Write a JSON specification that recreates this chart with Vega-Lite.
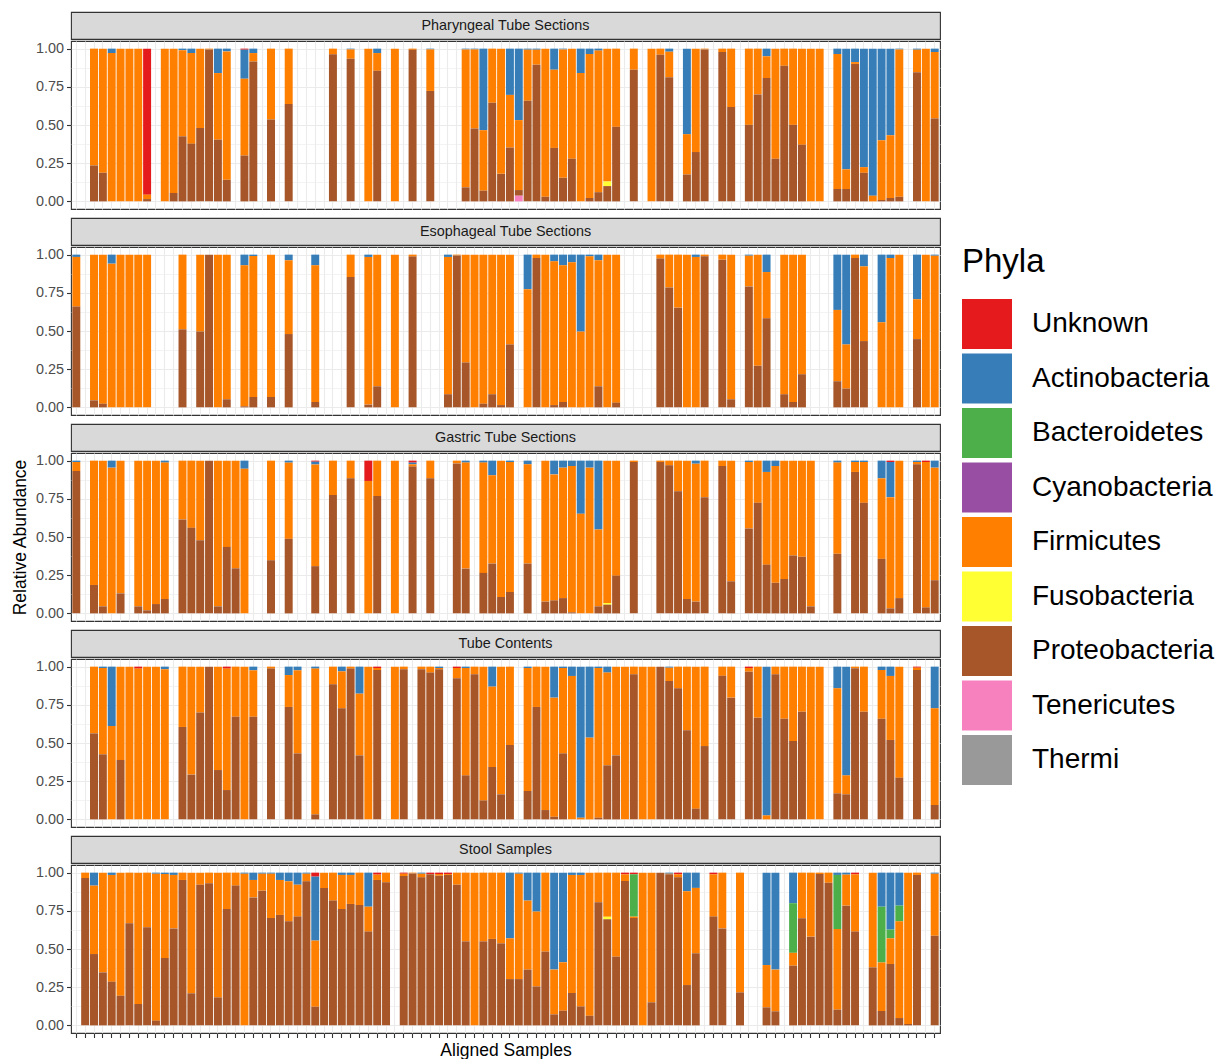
{
"$schema": "https://vega.github.io/schema/vega-lite/v6.json",
"background": "white",
"padding": {"left": 10, "top": 11, "right": 5, "bottom": 0},
"datasets": {
"phyla": [{"k":"U","phy":"Unknown","o":9},{"k":"A","phy":"Actinobacteria","o":8},{"k":"B","phy":"Bacteroidetes","o":7},{"k":"C","phy":"Cyanobacteria","o":6},{"k":"F","phy":"Firmicutes","o":5},{"k":"Y","phy":"Fusobacteria","o":4},{"k":"P","phy":"Proteobacteria","o":3},{"k":"T","phy":"Tenericutes","o":2},{"k":"H","phy":"Thermi","o":1}],
"bars": [
{"p":1,"s":2,"F":0.765,"P":0.235},{"p":1,"s":3,"F":0.813,"P":0.187},{"p":1,"s":4,"A":0.029,"F":0.971},{"p":1,"s":5,"F":1},{"p":1,"s":6,"F":1},{"p":1,"s":7,"F":1},{"p":1,"s":8,"U":0.956,"F":0.029,"P":0.015},{"p":1,"s":10,"F":1},{"p":1,"s":11,"F":0.945,"P":0.055},{"p":1,"s":12,"A":0.01,"F":0.564,"P":0.426},{"p":1,"s":13,"A":0.029,"F":0.593,"P":0.378},{"p":1,"s":14,"F":0.519,"P":0.481},{"p":1,"s":15,"F":0.005,"P":0.995},{"p":1,"s":16,"A":0.16,"F":0.436,"P":0.404},{"p":1,"s":17,"A":0.018,"F":0.841,"P":0.141},{"p":1,"s":19,"U":0.007,"A":0.19,"F":0.503,"P":0.3},{"p":1,"s":20,"A":0.029,"F":0.055,"P":0.916},{"p":1,"s":22,"F":0.464,"P":0.536},{"p":1,"s":24,"F":0.363,"P":0.637},{"p":1,"s":29,"F":0.037,"P":0.963},{"p":1,"s":31,"A":0.005,"F":0.061,"P":0.934},{"p":1,"s":33,"F":1},{"p":1,"s":34,"A":0.029,"F":0.116,"P":0.855},{"p":1,"s":36,"F":1},{"p":1,"s":38,"F":0.008,"P":0.992},{"p":1,"s":40,"A":0.005,"F":0.272,"P":0.723},{"p":1,"s":44,"A":0.005,"F":0.903,"P":0.092},{"p":1,"s":45,"A":0.005,"F":0.518,"P":0.477},{"p":1,"s":46,"A":0.534,"F":0.396,"P":0.07},{"p":1,"s":47,"F":0.354,"P":0.646},{"p":1,"s":48,"F":0.82,"P":0.18},{"p":1,"s":49,"A":0.303,"F":0.345,"P":0.352},{"p":1,"s":50,"A":0.468,"F":0.458,"P":0.037,"T":0.037},{"p":1,"s":51,"A":0.007,"F":0.334,"P":0.659},{"p":1,"s":52,"A":0.007,"F":0.098,"P":0.895},{"p":1,"s":53,"F":0.97,"P":0.03},{"p":1,"s":54,"A":0.138,"F":0.512,"P":0.35},{"p":1,"s":55,"A":0.005,"F":0.841,"P":0.154},{"p":1,"s":56,"F":0.721,"P":0.279},{"p":1,"s":57,"A":0.16,"F":0.84},{"p":1,"s":58,"A":0.035,"F":0.943,"P":0.022},{"p":1,"s":59,"A":0.013,"F":0.927,"P":0.06},{"p":1,"s":60,"F":0.87,"Y":0.03,"P":0.1},{"p":1,"s":61,"F":0.512,"P":0.488},{"p":1,"s":63,"F":0.138,"P":0.862},{"p":1,"s":65,"F":1},{"p":1,"s":66,"F":0.04,"P":0.96},{"p":1,"s":67,"A":0.02,"F":0.167,"P":0.813},{"p":1,"s":69,"A":0.56,"F":0.264,"P":0.176},{"p":1,"s":70,"F":0.677,"P":0.323},{"p":1,"s":71,"F":0.005,"P":0.995},{"p":1,"s":73,"F":0.022,"P":0.978},{"p":1,"s":74,"F":0.382,"P":0.618},{"p":1,"s":76,"F":0.499,"P":0.501},{"p":1,"s":77,"F":0.3,"P":0.7},{"p":1,"s":78,"A":0.05,"F":0.143,"P":0.807},{"p":1,"s":79,"F":0.721,"P":0.279},{"p":1,"s":80,"F":0.112,"P":0.888},{"p":1,"s":81,"F":0.499,"P":0.501},{"p":1,"s":82,"F":0.629,"P":0.371},{"p":1,"s":83,"F":1},{"p":1,"s":84,"F":1},{"p":1,"s":86,"A":0.035,"F":0.884,"P":0.081},{"p":1,"s":87,"A":0.79,"F":0.129,"P":0.081},{"p":1,"s":88,"A":0.088,"F":0.012,"P":0.9},{"p":1,"s":89,"A":0.776,"F":0.037,"P":0.187},{"p":1,"s":90,"A":0.963,"F":0.037},{"p":1,"s":91,"A":0.6,"F":0.391,"P":0.009},{"p":1,"s":92,"A":0.567,"F":0.411,"P":0.022},{"p":1,"s":93,"A":0.005,"F":0.965,"P":0.03},{"p":1,"s":95,"A":0.007,"F":0.147,"P":0.846},{"p":1,"s":96,"F":1},{"p":1,"s":97,"A":0.022,"F":0.435,"P":0.543},
{"p":2,"s":0,"A":0.015,"F":0.325,"P":0.66},{"p":2,"s":2,"F":0.954,"P":0.046},{"p":2,"s":3,"F":0.976,"P":0.024},{"p":2,"s":4,"A":0.059,"F":0.941},{"p":2,"s":5,"F":1},{"p":2,"s":6,"F":1},{"p":2,"s":7,"F":1},{"p":2,"s":8,"F":1},{"p":2,"s":12,"F":0.489,"P":0.511},{"p":2,"s":14,"F":0.504,"P":0.496},{"p":2,"s":15,"P":1},{"p":2,"s":16,"F":1},{"p":2,"s":17,"F":0.947,"P":0.053},{"p":2,"s":19,"A":0.07,"F":0.923,"P":0.007},{"p":2,"s":20,"A":0.009,"F":0.923,"P":0.068},{"p":2,"s":22,"F":0.932,"P":0.068},{"p":2,"s":24,"A":0.037,"F":0.483,"P":0.48},{"p":2,"s":27,"A":0.07,"F":0.895,"P":0.035},{"p":2,"s":31,"F":0.147,"P":0.853},{"p":2,"s":33,"A":0.015,"F":0.967,"P":0.018},{"p":2,"s":34,"F":0.862,"P":0.138},{"p":2,"s":36,"F":1},{"p":2,"s":38,"F":0.013,"P":0.987},{"p":2,"s":42,"A":0.015,"F":0.899,"P":0.086},{"p":2,"s":43,"F":0.005,"P":0.995},{"p":2,"s":44,"F":0.706,"P":0.294},{"p":2,"s":45,"F":1},{"p":2,"s":46,"F":0.976,"P":0.024},{"p":2,"s":47,"F":0.914,"P":0.086},{"p":2,"s":48,"F":0.985,"P":0.015},{"p":2,"s":49,"F":0.588,"P":0.412},{"p":2,"s":51,"A":0.226,"F":0.774},{"p":2,"s":52,"F":0.022,"P":0.978},{"p":2,"s":53,"F":1},{"p":2,"s":54,"A":0.044,"F":0.941,"P":0.015},{"p":2,"s":55,"A":0.07,"F":0.895,"P":0.035},{"p":2,"s":56,"A":0.05,"F":0.95},{"p":2,"s":57,"A":0.504,"F":0.496},{"p":2,"s":58,"A":0.011,"F":0.989},{"p":2,"s":59,"A":0.037,"F":0.825,"P":0.138},{"p":2,"s":60,"F":1},{"p":2,"s":61,"F":0.969,"P":0.031},{"p":2,"s":66,"F":0.026,"P":0.974},{"p":2,"s":67,"F":0.215,"P":0.785},{"p":2,"s":68,"F":0.347,"P":0.653},{"p":2,"s":69,"F":1},{"p":2,"s":70,"A":0.015,"F":0.985},{"p":2,"s":71,"F":0.011,"P":0.989},{"p":2,"s":73,"F":0.033,"P":0.967},{"p":2,"s":74,"F":0.947,"P":0.053},{"p":2,"s":76,"A":0.007,"F":0.201,"P":0.792},{"p":2,"s":77,"F":0.728,"P":0.272},{"p":2,"s":78,"A":0.114,"F":0.303,"P":0.583},{"p":2,"s":80,"F":0.914,"P":0.086},{"p":2,"s":81,"F":0.965,"P":0.035},{"p":2,"s":82,"F":0.783,"P":0.217},{"p":2,"s":86,"A":0.362,"F":0.467,"P":0.171},{"p":2,"s":87,"A":0.588,"F":0.289,"P":0.123},{"p":2,"s":88,"F":0.022,"P":0.978},{"p":2,"s":89,"A":0.077,"F":0.489,"P":0.434},{"p":2,"s":91,"A":0.443,"F":0.557},{"p":2,"s":92,"A":0.022,"F":0.978},{"p":2,"s":93,"F":1},{"p":2,"s":95,"A":0.292,"F":0.261,"P":0.447},{"p":2,"s":96,"F":1},{"p":2,"s":97,"A":0.007,"F":0.993},
{"p":3,"s":0,"A":0.009,"F":0.059,"P":0.932},{"p":3,"s":2,"F":0.814,"P":0.186},{"p":3,"s":3,"F":0.954,"P":0.046},{"p":3,"s":4,"A":0.046,"F":0.954},{"p":3,"s":5,"F":0.869,"P":0.131},{"p":3,"s":7,"F":0.954,"P":0.046},{"p":3,"s":8,"F":0.98,"P":0.02},{"p":3,"s":9,"F":0.939,"P":0.061},{"p":3,"s":10,"A":0.013,"F":0.893,"P":0.094},{"p":3,"s":12,"F":0.385,"P":0.615},{"p":3,"s":13,"F":0.44,"P":0.56},{"p":3,"s":14,"F":0.521,"P":0.479},{"p":3,"s":15,"P":1},{"p":3,"s":16,"F":0.954,"P":0.046},{"p":3,"s":17,"F":0.565,"P":0.435},{"p":3,"s":18,"F":0.705,"P":0.295},{"p":3,"s":19,"A":0.053,"F":0.947},{"p":3,"s":22,"F":0.652,"P":0.348},{"p":3,"s":24,"A":0.013,"F":0.499,"P":0.488},{"p":3,"s":27,"U":0.007,"A":0.018,"F":0.666,"P":0.309},{"p":3,"s":29,"F":0.225,"P":0.775},{"p":3,"s":31,"F":0.116,"P":0.884},{"p":3,"s":33,"U":0.133,"F":0.867},{"p":3,"s":34,"F":0.232,"P":0.768},{"p":3,"s":36,"F":1},{"p":3,"s":38,"U":0.013,"A":0.011,"F":0.015,"P":0.961},{"p":3,"s":40,"F":0.116,"P":0.884},{"p":3,"s":43,"F":0.018,"P":0.982},{"p":3,"s":44,"A":0.013,"F":0.694,"P":0.293},{"p":3,"s":46,"A":0.013,"F":0.722,"P":0.265},{"p":3,"s":47,"A":0.096,"F":0.578,"P":0.326},{"p":3,"s":48,"F":0.893,"P":0.107},{"p":3,"s":49,"A":0.009,"F":0.851,"P":0.14},{"p":3,"s":51,"A":0.024,"F":0.65,"P":0.326},{"p":3,"s":53,"F":0.923,"P":0.077},{"p":3,"s":54,"A":0.09,"F":0.825,"P":0.085},{"p":3,"s":55,"A":0.046,"F":0.854,"P":0.1},{"p":3,"s":56,"A":0.035,"F":0.958,"P":0.007},{"p":3,"s":57,"A":0.348,"F":0.652},{"p":3,"s":58,"A":0.046,"F":0.954},{"p":3,"s":59,"A":0.451,"F":0.503,"P":0.046},{"p":3,"s":60,"F":0.932,"Y":0.011,"P":0.057},{"p":3,"s":61,"F":0.753,"P":0.247},{"p":3,"s":63,"F":0.009,"P":0.991},{"p":3,"s":66,"F":0.009,"P":0.991},{"p":3,"s":67,"F":0.031,"P":0.969},{"p":3,"s":68,"F":0.201,"P":0.799},{"p":3,"s":69,"F":0.906,"P":0.094},{"p":3,"s":70,"A":0.02,"F":0.903,"P":0.077},{"p":3,"s":71,"F":0.239,"P":0.761},{"p":3,"s":73,"F":0.035,"P":0.965},{"p":3,"s":74,"F":0.79,"P":0.21},{"p":3,"s":76,"A":0.009,"F":0.435,"P":0.556},{"p":3,"s":77,"F":0.276,"P":0.724},{"p":3,"s":78,"A":0.074,"F":0.607,"P":0.319},{"p":3,"s":79,"A":0.035,"F":0.765,"P":0.2},{"p":3,"s":80,"F":0.775,"P":0.225},{"p":3,"s":81,"F":0.621,"P":0.379},{"p":3,"s":82,"F":0.63,"P":0.37},{"p":3,"s":83,"F":0.954,"P":0.046},{"p":3,"s":86,"A":0.013,"F":0.597,"P":0.39},{"p":3,"s":88,"A":0.009,"F":0.065,"P":0.926},{"p":3,"s":89,"A":0.009,"F":0.267,"P":0.724},{"p":3,"s":91,"A":0.116,"F":0.527,"P":0.357},{"p":3,"s":92,"U":0.009,"A":0.23,"F":0.728,"P":0.033},{"p":3,"s":93,"F":0.9,"P":0.1},{"p":3,"s":95,"A":0.009,"F":0.015,"P":0.976},{"p":3,"s":96,"U":0.009,"F":0.952,"P":0.039},{"p":3,"s":97,"A":0.046,"F":0.737,"P":0.217},
{"p":4,"s":2,"F":0.437,"P":0.563},{"p":4,"s":3,"A":0.009,"F":0.565,"P":0.426},{"p":4,"s":4,"A":0.389,"F":0.611},{"p":4,"s":5,"F":0.611,"P":0.389},{"p":4,"s":6,"F":1},{"p":4,"s":7,"U":0.013,"F":0.987},{"p":4,"s":8,"F":1},{"p":4,"s":9,"F":1},{"p":4,"s":10,"A":0.017,"F":0.983},{"p":4,"s":12,"F":0.395,"P":0.605},{"p":4,"s":13,"F":0.707,"P":0.293},{"p":4,"s":14,"F":0.301,"P":0.699},{"p":4,"s":15,"P":1},{"p":4,"s":16,"F":0.677,"P":0.323},{"p":4,"s":17,"U":0.013,"F":0.795,"P":0.192},{"p":4,"s":18,"F":0.328,"P":0.672},{"p":4,"s":19,"F":1},{"p":4,"s":20,"A":0.024,"F":0.304,"P":0.672},{"p":4,"s":22,"F":0.013,"P":0.987},{"p":4,"s":24,"A":0.055,"F":0.209,"P":0.736},{"p":4,"s":25,"A":0.024,"F":0.544,"P":0.432},{"p":4,"s":27,"A":0.013,"F":0.954,"P":0.033},{"p":4,"s":29,"F":0.116,"P":0.884},{"p":4,"s":30,"A":0.031,"F":0.242,"P":0.727},{"p":4,"s":31,"F":0.013,"P":0.987},{"p":4,"s":32,"A":0.177,"F":0.404,"P":0.419},{"p":4,"s":33,"F":1},{"p":4,"s":34,"U":0.009,"F":0.013,"P":0.978},{"p":4,"s":36,"F":1},{"p":4,"s":37,"F":0.017,"P":0.983},{"p":4,"s":39,"F":0.017,"P":0.983},{"p":4,"s":40,"F":0.039,"P":0.961},{"p":4,"s":41,"A":0.009,"F":0.008,"P":0.983},{"p":4,"s":43,"U":0.009,"F":0.067,"P":0.924},{"p":4,"s":44,"A":0.009,"F":0.703,"P":0.288},{"p":4,"s":45,"F":0.05,"P":0.95},{"p":4,"s":46,"F":0.876,"P":0.124},{"p":4,"s":47,"A":0.131,"F":0.526,"P":0.343},{"p":4,"s":48,"F":0.836,"P":0.164},{"p":4,"s":49,"F":0.513,"P":0.487},{"p":4,"s":51,"A":0.009,"F":0.805,"P":0.186},{"p":4,"s":52,"F":0.264,"P":0.736},{"p":4,"s":53,"F":0.939,"P":0.061},{"p":4,"s":54,"A":0.203,"F":0.78,"P":0.017},{"p":4,"s":55,"A":0.009,"F":0.559,"P":0.432},{"p":4,"s":56,"A":0.061,"F":0.939},{"p":4,"s":57,"A":0.989,"F":0.011},{"p":4,"s":58,"A":0.465,"F":0.535},{"p":4,"s":59,"A":0.009,"F":0.98,"P":0.011},{"p":4,"s":60,"A":0.039,"F":0.607,"P":0.354},{"p":4,"s":61,"F":0.581,"P":0.419},{"p":4,"s":62,"F":1},{"p":4,"s":63,"F":0.05,"P":0.95},{"p":4,"s":64,"F":1},{"p":4,"s":65,"F":1},{"p":4,"s":66,"P":1},{"p":4,"s":67,"A":0.007,"F":0.087,"P":0.906},{"p":4,"s":68,"F":0.142,"P":0.858},{"p":4,"s":69,"F":0.417,"P":0.583},{"p":4,"s":70,"F":0.93,"P":0.07},{"p":4,"s":71,"F":0.52,"P":0.48},{"p":4,"s":73,"F":0.06,"P":0.94},{"p":4,"s":74,"F":0.203,"P":0.797},{"p":4,"s":76,"U":0.009,"F":0.024,"P":0.967},{"p":4,"s":77,"F":0.334,"P":0.666},{"p":4,"s":78,"A":0.974,"F":0.026},{"p":4,"s":79,"F":0.05,"P":0.95},{"p":4,"s":80,"F":0.341,"P":0.659},{"p":4,"s":81,"F":0.487,"P":0.513},{"p":4,"s":82,"F":0.295,"P":0.705},{"p":4,"s":83,"F":1},{"p":4,"s":84,"F":1},{"p":4,"s":86,"A":0.142,"F":0.688,"P":0.17},{"p":4,"s":87,"A":0.712,"F":0.124,"P":0.164},{"p":4,"s":88,"F":0.01,"P":0.99},{"p":4,"s":89,"F":0.295,"P":0.705},{"p":4,"s":91,"A":0.022,"F":0.319,"P":0.659},{"p":4,"s":92,"A":0.061,"F":0.419,"P":0.52},{"p":4,"s":93,"F":0.727,"P":0.273},{"p":4,"s":95,"U":0.007,"F":0.015,"P":0.978},{"p":4,"s":97,"A":0.273,"F":0.633,"P":0.094},
{"p":5,"s":1,"F":0.035,"P":0.965},{"p":5,"s":2,"A":0.085,"F":0.448,"P":0.467},{"p":5,"s":3,"F":0.653,"P":0.347},{"p":5,"s":4,"A":0.015,"F":0.699,"P":0.286},{"p":5,"s":5,"F":0.806,"P":0.194},{"p":5,"s":6,"F":0.332,"P":0.668},{"p":5,"s":7,"F":0.86,"P":0.14},{"p":5,"s":8,"F":0.358,"P":0.642},{"p":5,"s":9,"A":0.007,"F":0.962,"P":0.031},{"p":5,"s":10,"A":0.009,"F":0.55,"P":0.441},{"p":5,"s":11,"A":0.015,"F":0.35,"P":0.635},{"p":5,"s":12,"F":0.048,"P":0.952},{"p":5,"s":13,"F":0.79,"P":0.21},{"p":5,"s":14,"F":0.079,"P":0.921},{"p":5,"s":15,"F":0.07,"P":0.93},{"p":5,"s":16,"F":0.817,"P":0.183},{"p":5,"s":17,"F":0.238,"P":0.762},{"p":5,"s":18,"F":0.085,"P":0.915},{"p":5,"s":19,"A":0.007,"F":0.993},{"p":5,"s":20,"A":0.048,"F":0.114,"P":0.838},{"p":5,"s":21,"A":0.007,"F":0.111,"P":0.882},{"p":5,"s":22,"A":0.007,"F":0.29,"P":0.703},{"p":5,"s":23,"A":0.048,"F":0.229,"P":0.723},{"p":5,"s":24,"A":0.057,"F":0.262,"P":0.681},{"p":5,"s":25,"A":0.079,"F":0.209,"P":0.712},{"p":5,"s":26,"A":0.007,"F":0.05,"P":0.943},{"p":5,"s":27,"U":0.026,"A":0.419,"F":0.433,"P":0.122},{"p":5,"s":28,"F":0.1,"P":0.9},{"p":5,"s":29,"F":0.183,"P":0.817},{"p":5,"s":30,"A":0.015,"F":0.223,"P":0.762},{"p":5,"s":31,"A":0.015,"F":0.19,"P":0.795},{"p":5,"s":32,"F":0.212,"P":0.788},{"p":5,"s":33,"A":0.223,"F":0.163,"P":0.614},{"p":5,"s":34,"U":0.013,"F":0.035,"P":0.952},{"p":5,"s":35,"F":0.063,"P":0.937},{"p":5,"s":37,"U":0.007,"F":0.015,"P":0.978},{"p":5,"s":38,"F":0.005,"P":0.995},{"p":5,"s":39,"A":0.007,"F":0.024,"P":0.969},{"p":5,"s":40,"U":0.009,"F":0.001,"P":0.99},{"p":5,"s":41,"U":0.009,"F":0.011,"P":0.98},{"p":5,"s":42,"U":0.009,"F":0.006,"P":0.985},{"p":5,"s":43,"F":0.079,"P":0.921},{"p":5,"s":44,"F":0.45,"P":0.55},{"p":5,"s":45,"F":1},{"p":5,"s":46,"F":0.45,"P":0.55},{"p":5,"s":47,"F":0.434,"P":0.566},{"p":5,"s":48,"F":0.463,"P":0.537},{"p":5,"s":49,"A":0.43,"F":0.267,"P":0.303},{"p":5,"s":50,"A":0.007,"F":0.69,"P":0.303},{"p":5,"s":51,"A":0.183,"F":0.452,"P":0.365},{"p":5,"s":52,"A":0.255,"F":0.49,"P":0.255},{"p":5,"s":53,"F":0.517,"P":0.483},{"p":5,"s":54,"A":0.635,"F":0.293,"P":0.072},{"p":5,"s":55,"A":0.587,"F":0.317,"P":0.096},{"p":5,"s":56,"A":0.015,"F":0.773,"P":0.212},{"p":5,"s":57,"A":0.015,"F":0.861,"P":0.124},{"p":5,"s":58,"F":0.937,"P":0.063},{"p":5,"s":59,"F":0.194,"P":0.806},{"p":5,"s":60,"F":0.289,"Y":0.017,"P":0.694},{"p":5,"s":61,"F":0.55,"P":0.45},{"p":5,"s":62,"U":0.011,"F":0.044,"P":0.945},{"p":5,"s":63,"U":0.011,"B":0.277,"F":0.009,"P":0.703},{"p":5,"s":64,"F":1},{"p":5,"s":65,"F":0.849,"P":0.151},{"p":5,"s":66,"P":1},{"p":5,"s":67,"A":0.007,"F":0.003,"P":0.99},{"p":5,"s":68,"U":0.011,"F":0.02,"P":0.969},{"p":5,"s":69,"A":0.122,"F":0.614,"P":0.264},{"p":5,"s":70,"A":0.1,"F":0.428,"P":0.472},{"p":5,"s":72,"U":0.011,"F":0.277,"P":0.712},{"p":5,"s":73,"F":0.365,"P":0.635},{"p":5,"s":75,"F":0.784,"P":0.216},{"p":5,"s":78,"A":0.605,"F":0.277,"P":0.118},{"p":5,"s":79,"A":0.635,"F":0.273,"P":0.092},{"p":5,"s":81,"A":0.2,"B":0.325,"F":0.084,"P":0.391},{"p":5,"s":82,"F":0.299,"P":0.701},{"p":5,"s":83,"F":0.419,"P":0.581},{"p":5,"s":84,"F":0.009,"P":0.991},{"p":5,"s":85,"F":0.066,"P":0.934},{"p":5,"s":86,"A":0.015,"B":0.354,"F":0.528,"P":0.103},{"p":5,"s":87,"A":0.013,"F":0.203,"P":0.784},{"p":5,"s":88,"U":0.011,"F":0.375,"P":0.614},{"p":5,"s":90,"F":0.62,"P":0.38},{"p":5,"s":91,"A":0.223,"B":0.365,"F":0.318,"P":0.094},{"p":5,"s":92,"A":0.373,"B":0.057,"F":0.168,"P":0.402},{"p":5,"s":93,"A":0.216,"B":0.103,"F":0.633,"P":0.048},{"p":5,"s":94,"F":0.991,"P":0.009},{"p":5,"s":95,"F":0.015,"P":0.985},{"p":5,"s":97,"A":0.007,"F":0.406,"P":0.587}
]
},
"spacing": 7,
"vconcat": [
{"spacing": 0, "vconcat": [
 {"width": 869, "height": 27, "view": {"fill": "#D9D9D9", "stroke": "#333333", "strokeWidth": 1.1}, "data": {"values": [{"t": "Pharyngeal Tube Sections"}]}, "mark": {"type": "text", "fontSize": 14.4, "color": "#1A1A1A", "baseline": "middle", "align": "center"}, "encoding": {"text": {"field": "t", "type": "nominal"}}},
 {"width": 869, "height": 168, "view": {"stroke": "#333333", "strokeWidth": 1.1}, "data": {"name": "bars"},
  "transform": [{"filter": "datum.p == 1"}, {"fold": ["U","A","B","C","F","Y","P","T"], "as": ["k","v"]}, {"filter": "isValid(datum.v) && datum.v > 0"}, {"lookup": "k", "from": {"data": {"name": "phyla"}, "key": "k", "fields": ["phy","o"]}}],
  "mark": {"type": "bar"},
  "encoding": {
   "x": {"field": "s", "type": "ordinal", "scale": {"domain": [0,1,2,3,4,5,6,7,8,9,10,11,12,13,14,15,16,17,18,19,20,21,22,23,24,25,26,27,28,29,30,31,32,33,34,35,36,37,38,39,40,41,42,43,44,45,46,47,48,49,50,51,52,53,54,55,56,57,58,59,60,61,62,63,64,65,66,67,68,69,70,71,72,73,74,75,76,77,78,79,80,81,82,83,84,85,86,87,88,89,90,91,92,93,94,95,96,97], "paddingInner": 0.1, "paddingOuter": 0.15}, "axis": {"labels": false, "ticks": false, "domain": false, "title": null, "grid": true, "gridColor": "#EBEBEB", "gridWidth": 1.1, "bandPosition": 0.5}},
   "y": {"field": "v", "type": "quantitative", "stack": "normalize", "scale": {"domain": [-0.05, 1.05], "nice": false, "zero": false}, "axis": {"title": "Relative Abundance", "titleOpacity": 0, "values": [0,0.125,0.25,0.375,0.5,0.625,0.75,0.875,1], "labelExpr": "datum.value*4 == floor(datum.value*4) ? format(datum.value, '.2f') : ''", "tickOpacity": {"condition": {"test": "datum.value*4 != floor(datum.value*4)", "value": 0}, "value": 1}, "gridWidth": {"condition": {"test": "datum.value*4 != floor(datum.value*4)", "value": 0.6}, "value": 1.1}}},
   "color": {"field": "phy", "type": "nominal", "scale": {"domain": ["Unknown","Actinobacteria","Bacteroidetes","Cyanobacteria","Firmicutes","Fusobacteria","Proteobacteria","Tenericutes","Thermi"], "range": ["#E41A1C","#377EB8","#4DAF4A","#984EA3","#FF7F00","#FFFF33","#A65628","#F781BF","#999999"]}, "legend": {"title": "Phyla", "orient": "none", "legendX": 891, "legendY": 234}},
   "order": {"field": "o", "type": "quantitative"}
  }}
]},
{"spacing": 0, "vconcat": [
 {"width": 869, "height": 27, "view": {"fill": "#D9D9D9", "stroke": "#333333", "strokeWidth": 1.1}, "data": {"values": [{"t": "Esophageal Tube Sections"}]}, "mark": {"type": "text", "fontSize": 14.4, "color": "#1A1A1A", "baseline": "middle", "align": "center"}, "encoding": {"text": {"field": "t", "type": "nominal"}}},
 {"width": 869, "height": 168, "view": {"stroke": "#333333", "strokeWidth": 1.1}, "data": {"name": "bars"},
  "transform": [{"filter": "datum.p == 2"}, {"fold": ["U","A","B","C","F","Y","P","T"], "as": ["k","v"]}, {"filter": "isValid(datum.v) && datum.v > 0"}, {"lookup": "k", "from": {"data": {"name": "phyla"}, "key": "k", "fields": ["phy","o"]}}],
  "mark": {"type": "bar"},
  "encoding": {
   "x": {"field": "s", "type": "ordinal", "scale": {"domain": [0,1,2,3,4,5,6,7,8,9,10,11,12,13,14,15,16,17,18,19,20,21,22,23,24,25,26,27,28,29,30,31,32,33,34,35,36,37,38,39,40,41,42,43,44,45,46,47,48,49,50,51,52,53,54,55,56,57,58,59,60,61,62,63,64,65,66,67,68,69,70,71,72,73,74,75,76,77,78,79,80,81,82,83,84,85,86,87,88,89,90,91,92,93,94,95,96,97], "paddingInner": 0.1, "paddingOuter": 0.15}, "axis": {"labels": false, "ticks": false, "domain": false, "title": null, "grid": true, "gridColor": "#EBEBEB", "gridWidth": 1.1, "bandPosition": 0.5}},
   "y": {"field": "v", "type": "quantitative", "stack": "normalize", "scale": {"domain": [-0.05, 1.05], "nice": false, "zero": false}, "axis": {"title": "Relative Abundance", "titleOpacity": 0, "values": [0,0.125,0.25,0.375,0.5,0.625,0.75,0.875,1], "labelExpr": "datum.value*4 == floor(datum.value*4) ? format(datum.value, '.2f') : ''", "tickOpacity": {"condition": {"test": "datum.value*4 != floor(datum.value*4)", "value": 0}, "value": 1}, "gridWidth": {"condition": {"test": "datum.value*4 != floor(datum.value*4)", "value": 0.6}, "value": 1.1}}},
   "color": {"field": "phy", "type": "nominal", "scale": {"domain": ["Unknown","Actinobacteria","Bacteroidetes","Cyanobacteria","Firmicutes","Fusobacteria","Proteobacteria","Tenericutes","Thermi"], "range": ["#E41A1C","#377EB8","#4DAF4A","#984EA3","#FF7F00","#FFFF33","#A65628","#F781BF","#999999"]}, "legend": {"title": "Phyla", "orient": "none", "legendX": 891, "legendY": 234}},
   "order": {"field": "o", "type": "quantitative"}
  }}
]},
{"spacing": 0, "vconcat": [
 {"width": 869, "height": 27, "view": {"fill": "#D9D9D9", "stroke": "#333333", "strokeWidth": 1.1}, "data": {"values": [{"t": "Gastric Tube Sections"}]}, "mark": {"type": "text", "fontSize": 14.4, "color": "#1A1A1A", "baseline": "middle", "align": "center"}, "encoding": {"text": {"field": "t", "type": "nominal"}}},
 {"width": 869, "height": 168, "view": {"stroke": "#333333", "strokeWidth": 1.1}, "data": {"name": "bars"},
  "transform": [{"filter": "datum.p == 3"}, {"fold": ["U","A","B","C","F","Y","P","T"], "as": ["k","v"]}, {"filter": "isValid(datum.v) && datum.v > 0"}, {"lookup": "k", "from": {"data": {"name": "phyla"}, "key": "k", "fields": ["phy","o"]}}],
  "mark": {"type": "bar"},
  "encoding": {
   "x": {"field": "s", "type": "ordinal", "scale": {"domain": [0,1,2,3,4,5,6,7,8,9,10,11,12,13,14,15,16,17,18,19,20,21,22,23,24,25,26,27,28,29,30,31,32,33,34,35,36,37,38,39,40,41,42,43,44,45,46,47,48,49,50,51,52,53,54,55,56,57,58,59,60,61,62,63,64,65,66,67,68,69,70,71,72,73,74,75,76,77,78,79,80,81,82,83,84,85,86,87,88,89,90,91,92,93,94,95,96,97], "paddingInner": 0.1, "paddingOuter": 0.15}, "axis": {"labels": false, "ticks": false, "domain": false, "title": null, "grid": true, "gridColor": "#EBEBEB", "gridWidth": 1.1, "bandPosition": 0.5}},
   "y": {"field": "v", "type": "quantitative", "stack": "normalize", "scale": {"domain": [-0.05, 1.05], "nice": false, "zero": false}, "axis": {"title": "Relative Abundance", "titleOpacity": 1, "values": [0,0.125,0.25,0.375,0.5,0.625,0.75,0.875,1], "labelExpr": "datum.value*4 == floor(datum.value*4) ? format(datum.value, '.2f') : ''", "tickOpacity": {"condition": {"test": "datum.value*4 != floor(datum.value*4)", "value": 0}, "value": 1}, "gridWidth": {"condition": {"test": "datum.value*4 != floor(datum.value*4)", "value": 0.6}, "value": 1.1}}},
   "color": {"field": "phy", "type": "nominal", "scale": {"domain": ["Unknown","Actinobacteria","Bacteroidetes","Cyanobacteria","Firmicutes","Fusobacteria","Proteobacteria","Tenericutes","Thermi"], "range": ["#E41A1C","#377EB8","#4DAF4A","#984EA3","#FF7F00","#FFFF33","#A65628","#F781BF","#999999"]}, "legend": {"title": "Phyla", "orient": "none", "legendX": 891, "legendY": 234}},
   "order": {"field": "o", "type": "quantitative"}
  }}
]},
{"spacing": 0, "vconcat": [
 {"width": 869, "height": 27, "view": {"fill": "#D9D9D9", "stroke": "#333333", "strokeWidth": 1.1}, "data": {"values": [{"t": "Tube Contents"}]}, "mark": {"type": "text", "fontSize": 14.4, "color": "#1A1A1A", "baseline": "middle", "align": "center"}, "encoding": {"text": {"field": "t", "type": "nominal"}}},
 {"width": 869, "height": 168, "view": {"stroke": "#333333", "strokeWidth": 1.1}, "data": {"name": "bars"},
  "transform": [{"filter": "datum.p == 4"}, {"fold": ["U","A","B","C","F","Y","P","T"], "as": ["k","v"]}, {"filter": "isValid(datum.v) && datum.v > 0"}, {"lookup": "k", "from": {"data": {"name": "phyla"}, "key": "k", "fields": ["phy","o"]}}],
  "mark": {"type": "bar"},
  "encoding": {
   "x": {"field": "s", "type": "ordinal", "scale": {"domain": [0,1,2,3,4,5,6,7,8,9,10,11,12,13,14,15,16,17,18,19,20,21,22,23,24,25,26,27,28,29,30,31,32,33,34,35,36,37,38,39,40,41,42,43,44,45,46,47,48,49,50,51,52,53,54,55,56,57,58,59,60,61,62,63,64,65,66,67,68,69,70,71,72,73,74,75,76,77,78,79,80,81,82,83,84,85,86,87,88,89,90,91,92,93,94,95,96,97], "paddingInner": 0.1, "paddingOuter": 0.15}, "axis": {"labels": false, "ticks": false, "domain": false, "title": null, "grid": true, "gridColor": "#EBEBEB", "gridWidth": 1.1, "bandPosition": 0.5}},
   "y": {"field": "v", "type": "quantitative", "stack": "normalize", "scale": {"domain": [-0.05, 1.05], "nice": false, "zero": false}, "axis": {"title": "Relative Abundance", "titleOpacity": 0, "values": [0,0.125,0.25,0.375,0.5,0.625,0.75,0.875,1], "labelExpr": "datum.value*4 == floor(datum.value*4) ? format(datum.value, '.2f') : ''", "tickOpacity": {"condition": {"test": "datum.value*4 != floor(datum.value*4)", "value": 0}, "value": 1}, "gridWidth": {"condition": {"test": "datum.value*4 != floor(datum.value*4)", "value": 0.6}, "value": 1.1}}},
   "color": {"field": "phy", "type": "nominal", "scale": {"domain": ["Unknown","Actinobacteria","Bacteroidetes","Cyanobacteria","Firmicutes","Fusobacteria","Proteobacteria","Tenericutes","Thermi"], "range": ["#E41A1C","#377EB8","#4DAF4A","#984EA3","#FF7F00","#FFFF33","#A65628","#F781BF","#999999"]}, "legend": {"title": "Phyla", "orient": "none", "legendX": 891, "legendY": 234}},
   "order": {"field": "o", "type": "quantitative"}
  }}
]},
{"spacing": 0, "vconcat": [
 {"width": 869, "height": 27, "view": {"fill": "#D9D9D9", "stroke": "#333333", "strokeWidth": 1.1}, "data": {"values": [{"t": "Stool Samples"}]}, "mark": {"type": "text", "fontSize": 14.4, "color": "#1A1A1A", "baseline": "middle", "align": "center"}, "encoding": {"text": {"field": "t", "type": "nominal"}}},
 {"width": 869, "height": 168, "view": {"stroke": "#333333", "strokeWidth": 1.1}, "data": {"name": "bars"},
  "transform": [{"filter": "datum.p == 5"}, {"fold": ["U","A","B","C","F","Y","P","T"], "as": ["k","v"]}, {"filter": "isValid(datum.v) && datum.v > 0"}, {"lookup": "k", "from": {"data": {"name": "phyla"}, "key": "k", "fields": ["phy","o"]}}],
  "mark": {"type": "bar"},
  "encoding": {
   "x": {"field": "s", "type": "ordinal", "scale": {"domain": [0,1,2,3,4,5,6,7,8,9,10,11,12,13,14,15,16,17,18,19,20,21,22,23,24,25,26,27,28,29,30,31,32,33,34,35,36,37,38,39,40,41,42,43,44,45,46,47,48,49,50,51,52,53,54,55,56,57,58,59,60,61,62,63,64,65,66,67,68,69,70,71,72,73,74,75,76,77,78,79,80,81,82,83,84,85,86,87,88,89,90,91,92,93,94,95,96,97], "paddingInner": 0.1, "paddingOuter": 0.15}, "axis": {"labels": false, "ticks": true, "tickSize": 4.5, "tickColor": "#333333", "tickWidth": 1.1, "domain": false, "title": "Aligned Samples", "titleFontSize": 17.5, "titleFontWeight": "normal", "titleColor": "black", "titlePadding": 3, "grid": true, "gridColor": "#EBEBEB", "gridWidth": 1.1, "bandPosition": 0.5}},
   "y": {"field": "v", "type": "quantitative", "stack": "normalize", "scale": {"domain": [-0.05, 1.05], "nice": false, "zero": false}, "axis": {"title": "Relative Abundance", "titleOpacity": 0, "values": [0,0.125,0.25,0.375,0.5,0.625,0.75,0.875,1], "labelExpr": "datum.value*4 == floor(datum.value*4) ? format(datum.value, '.2f') : ''", "tickOpacity": {"condition": {"test": "datum.value*4 != floor(datum.value*4)", "value": 0}, "value": 1}, "gridWidth": {"condition": {"test": "datum.value*4 != floor(datum.value*4)", "value": 0.6}, "value": 1.1}}},
   "color": {"field": "phy", "type": "nominal", "scale": {"domain": ["Unknown","Actinobacteria","Bacteroidetes","Cyanobacteria","Firmicutes","Fusobacteria","Proteobacteria","Tenericutes","Thermi"], "range": ["#E41A1C","#377EB8","#4DAF4A","#984EA3","#FF7F00","#FFFF33","#A65628","#F781BF","#999999"]}, "legend": {"title": "Phyla", "orient": "none", "legendX": 891, "legendY": 234}},
   "order": {"field": "o", "type": "quantitative"}
  }}
]}
],
"resolve": {"scale": {"color": "shared"}, "legend": {"color": "shared"}},
"config": {
 "font": "Liberation Sans",
 "axis": {"labelFont": "Liberation Sans", "titleFont": "Liberation Sans"},
 "axisY": {"domain": false, "tickColor": "#333333", "tickSize": 4.5, "tickWidth": 1.1, "labelFontSize": 14.4, "labelColor": "#4D4D4D", "labelPadding": 3, "gridColor": "#EBEBEB", "titleFontSize": 17.5, "titleFontWeight": "normal", "titleColor": "black", "titlePadding": 6},
 "legend": {"symbolType": "square", "symbolSize": 2500, "symbolStrokeWidth": 0, "symbolOpacity": 1, "labelFontSize": 28, "labelColor": "black", "labelFont": "Liberation Sans", "titleFont": "Liberation Sans", "titleFontSize": 33, "titleFontWeight": "normal", "titleColor": "black", "titlePadding": 20, "rowPadding": 4.5, "labelOffset": 20, "labelLimit": 400, "padding": 0},
 "text": {"font": "Liberation Sans"}
}
}
